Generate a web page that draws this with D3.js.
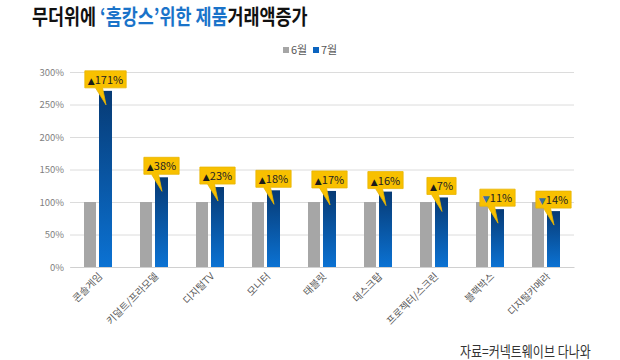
<!DOCTYPE html>
<html><head><meta charset="utf-8">
<script src="https://cdn.jsdelivr.net/npm/d3@7"></script>
<style>
html,body{margin:0;padding:0;background:#fff;}
text{font-family:"Noto Sans CJK KR","Noto Sans",sans-serif;}
</style></head>
<body><svg id="c" width="620" height="360"></svg>
<script>
const categories = ['콘솔게임','키덜트/프라모델','디지털TV','모니터','태블릿','데스크탑','프로젝터/스크린','블랙박스','디지털카메라'];
const june = [100,100,100,100,100,100,100,100,100];
const july = [271,138,123,118,117,116,107,89,86];
const yTicks = [0,50,100,150,200,250,300];
const seriesNames = ['6월','7월'];

const svg = d3.select('#c');
const W = 620, H = 360;
const m = {l:70, r:46, t:72, b:93};
const x = d3.scaleBand().domain(categories).range([m.l, W-m.r]).padding(0);
const y = d3.scaleLinear().domain([0,300]).range([H-m.b, m.t]);

const defs = svg.append('defs');
const g = defs.append('linearGradient').attr('id','blueGrad').attr('x1',0).attr('y1',0).attr('x2',0).attr('y2',1);
g.append('stop').attr('offset','0%').attr('stop-color','#073a74');
g.append('stop').attr('offset','100%').attr('stop-color','#0b72d3');

// Title
const title = svg.append('text').attr('transform','translate(32,24) scale(0.83,1)')
  .attr('font-size',21).attr('font-weight',700);
title.append('tspan').attr('fill','#111').text('무더위에 ');
title.append('tspan').attr('fill','#1a73c9').text('‘홈캉스’위한 제품');
title.append('tspan').attr('fill','#111').text('거래액증가');

// Legend
const leg = svg.append('g');
const legColors = ['#a6a6a6','#0b64bf'];
const legX = [283, 313];
seriesNames.forEach((n,i)=>{
  leg.append('rect').attr('x',legX[i]).attr('y',47).attr('width',6).attr('height',6).attr('fill',legColors[i]);
  leg.append('text').attr('x',legX[i]+8).attr('y',54).attr('font-size',11).attr('fill','#595959').text(n);
});

// Grid + y axis
const yAxis = d3.axisLeft(y).tickValues(yTicks).tickFormat(d=>d+'%').tickSize(-(W-m.l-m.r)).tickPadding(6);
const ya = svg.append('g').attr('transform',`translate(${m.l},0)`).call(yAxis);
ya.select('.domain').remove();
ya.selectAll('.tick line').attr('stroke','#dcdcdc').attr('stroke-width',1);
ya.selectAll('.tick text').attr('fill','#7f7f7f').attr('font-size',9.5).attr('font-family','"Noto Sans","Noto Sans CJK KR",sans-serif');

// x axis labels
const xAxis = d3.axisBottom(x).tickSize(0).tickPadding(0);
const xa = svg.append('g').attr('transform',`translate(0,${H-m.b})`).call(xAxis);
xa.select('.domain').attr('stroke','#d0d0d0');
xa.selectAll('.tick text').attr('font-size',10).attr('fill','#595959')
  .attr('text-anchor','end').attr('dy',0).attr('y',0)
  .attr('transform','translate(5,10) rotate(-45)');

// bars
const bw = x.bandwidth();
const bars = svg.append('g');
categories.forEach((c,i)=>{
  const cx = x(c) + bw/2;
  bars.append('rect').attr('x',cx-14).attr('y',y(june[i])).attr('width',12).attr('height',y(0)-y(june[i])).attr('fill','#a6a6a6');
  bars.append('rect').attr('x',cx+1).attr('y',y(july[i])).attr('width',13).attr('height',y(0)-y(july[i])).attr('fill','url(#blueGrad)');
});

// callouts
const cl = svg.append('g');
categories.forEach((c,i)=>{
  const bx = x(c) + bw/2 + 7.5;
  const diff = july[i]-june[i];
  const up = diff >= 0;
  const label = Math.abs(diff) + '%';
  const bottom = y(july[i]) - 3;
  const top = bottom - 17;
  const grp = cl.append('g');
  const t = grp.append('text').attr('x',bx).attr('y',bottom-4).attr('text-anchor','middle').attr('font-size',11).attr('fill','#222')
    .attr('font-family','"Noto Sans","Noto Sans CJK KR",sans-serif');
  t.append('tspan').attr('font-size',9).attr('fill', up ? '#1a1a1a' : '#3c6f9e').attr('font-family','DejaVu Sans').text(up?'▲':'▼');
  t.append('tspan').text(label);
  const tw = t.node().getComputedTextLength();
  const left = bx - tw/2 - 3, right = bx + tw/2 + 3;
  grp.insert('path','text')
    .attr('d',`M${left},${top}H${right}V${bottom}H${bx-3}L${bx+0.5},${bottom+17}L${bx-10},${bottom}H${left}Z`)
    .attr('fill','#f8c000').attr('stroke','#e9b500').attr('stroke-width',0.8);
});

// source
svg.append('text').attr('transform','translate(460,357) scale(0.8,1)').attr('font-size',15).attr('fill','#333').text('자료=커넥트웨이브 다나와');
</script></body></html>
